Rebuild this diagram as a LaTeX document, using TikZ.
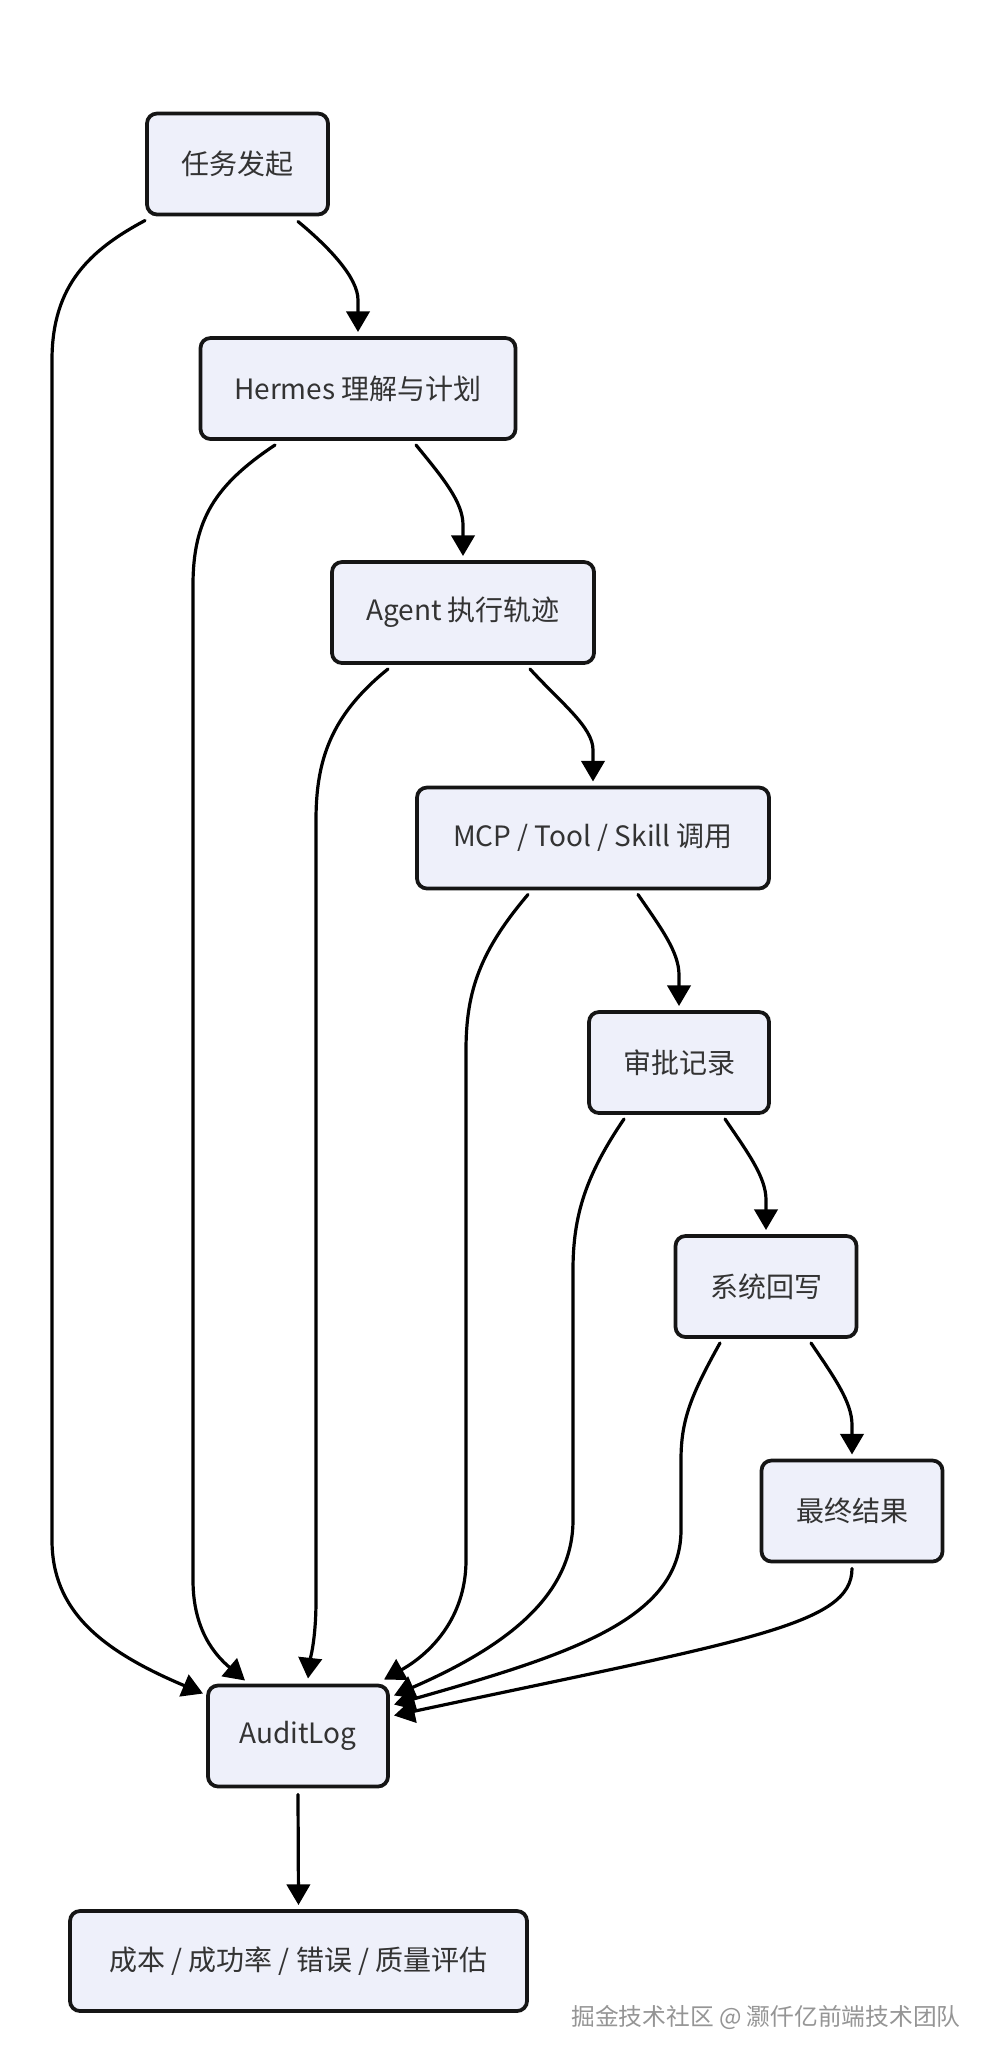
\documentclass[tikz,border=0pt]{standalone}
\usepackage{fontspec}
\setmainfont{Noto Sans CJK SC}
\usetikzlibrary{arrows.meta,calc}
\definecolor{boxfill}{HTML}{EEF0FA}
\definecolor{boxline}{HTML}{151515}
\definecolor{txt}{HTML}{333333}
\definecolor{wmgray}{HTML}{959595}
\begin{document}
\begin{tikzpicture}[x=0.75pt,y=-0.75pt,
  box/.style={draw=boxline, fill=boxfill, line width=2.8pt, rounded corners=7.5pt,
    inner sep=0pt, outer sep=0pt, text=txt, font=\fontsize{21}{25}\selectfont,
    minimum height=101*0.75pt},
  edge/.style={draw=black, line width=2.4pt, line cap=round,
    -{Triangle[length=15.5pt,width=17.5pt]}},
  wmark/.style={text=wmgray, font=\fontsize{17.8}{21}\selectfont, inner sep=0pt}]
\fill[white] (0,0) rectangle (991,2060);
\useasboundingbox (0,0) rectangle (991,2060);

% nodes
\node[box, minimum width=181*0.75pt] (n1) at (237.5,164) {任务发起};
\node[box, minimum width=315*0.75pt] (n2) at (358,388.5) {Hermes 理解与计划};
\node[box, minimum width=262*0.75pt] (n3) at (463,612.5) {Agent 执行轨迹};
\node[box, minimum width=352*0.75pt] (n4) at (593,838) {MCP / Tool / Skill 调用};
\node[box, minimum width=180*0.75pt] (n5) at (679,1062.5) {审批记录};
\node[box, minimum width=181*0.75pt] (n6) at (766,1286.5) {系统回写};
\node[box, minimum width=181*0.75pt] (n7) at (852,1511) {最终结果};
\node[box, minimum width=180*0.75pt] (al) at (298,1736) {AuditLog};
\node[box, minimum width=457*0.75pt, minimum height=100*0.75pt] (bt) at (298.5,1961) {成本 / 成功率 / 错误 / 质量评估};
\node[wmark] (wm) at (766,2017) {掘金技术社区 @ 灏仟亿前端技术团队};

% main chain
\draw[edge] ($(n1.south)+(60.5,7)$) .. controls (330,248) and (358,278) .. (358,300) -- ($(n2.north)+(0,-6)$);
\draw[edge] ($(n2.south)+(58,6)$) .. controls (443,478) and (463,502) .. (463,525) -- ($(n3.north)+(0,-6)$);
\draw[edge] ($(n3.south)+(67,6)$) .. controls (561,703) and (593,727) .. (593,750) -- ($(n4.north)+(0,-6)$);
\draw[edge] ($(n4.south)+(45,6)$) .. controls (661,928) and (679,952) .. (679,975) -- ($(n5.north)+(0,-6)$);
\draw[edge] ($(n5.south)+(46,6)$) .. controls (748,1153) and (766,1177) .. (766,1200) -- ($(n6.north)+(0,-6)$);
\draw[edge] ($(n6.south)+(45,6)$) .. controls (834,1377) and (852,1402) .. (852,1425) -- ($(n7.north)+(0,-6)$);

% to AuditLog
\draw[edge] ($(n1.south west)+(-2,6)$) .. controls (90,250) and (52,285) .. (52,360)
  -- (52,1540) .. controls (52,1610) and (100,1650) .. ($(al.north west)+(-5,8)$);
\draw[edge] ($(n2.south)+(-83,6)$) .. controls (215,485) and (193,520) .. (193,585)
  -- (193,1580) .. controls (193,1630) and (215,1655) .. ($(al.north west)+(37,-5)$);
\draw[edge] ($(n3.south)+(-75,6)$) .. controls (331,715) and (316,760) .. (316,820)
  -- (316,1600) .. controls (316,1640) and (310,1660) .. ($(al.north)+(10,-7)$);
\draw[edge] ($(n4.south)+(-65,6)$) .. controls (481,950) and (466,990) .. (466,1050)
  -- (466,1560) .. controls (466,1620) and (428,1655) .. ($(al.north east)+(-4,-6)$);
\draw[edge] ($(n5.south)+(-55,6)$) .. controls (586,1175) and (573,1215) .. (573,1270)
  -- (573,1520) .. controls (573,1600) and (498,1650) .. ($(al.north east)+(6,10)$);
\draw[edge] ($(n6.south)+(-46,6)$) .. controls (691,1395) and (681,1420) .. (681,1460)
  -- (681,1530) .. controls (681,1620) and (568,1655) .. ($(al.north east)+(6,19)$);
\draw[edge] ($(n7.south)+(0,7)$) .. controls (852,1625) and (748,1640) .. ($(al.north east)+(6,30)$);

% AuditLog to evaluation
\draw[edge] ($(al.south)+(0,8)$) -- ($(bt.north)+(0,-6)$);
\end{tikzpicture}
\end{document}
